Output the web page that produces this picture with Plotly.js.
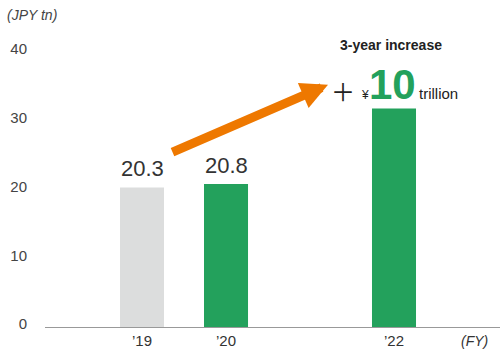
<!DOCTYPE html>
<html>
<head>
<meta charset="utf-8">
<script src="https://cdn.plot.ly/plotly-3.0.1.min.js"></script>
<style>html,body{margin:0;padding:0;background:#fff;}#chart{width:500px;height:356px;}</style>
</head>
<body>
<div id="chart"></div>
<script>
// ---- data ----
const years = [2019, 2020, 2022];
const values = [20.3, 20.8, 31.8];
const tickYears = [2019, 2020, 2022];
const tickLabels = ["’19", "’20", "’22"];
const barLabels = ["20.3", "20.8", ""];
const barColors = ["#dcdddd", "#23a15c", "#23a15c"];
const yTicks = [0, 10, 20, 30, 40];

// ---- layout helpers (pixel -> paper) ----
const W = 500, H = 356;
const M = {l: 45, r: 0, t: 52.3, b: 29.3};
const pw = W - M.l - M.r, ph = H - M.t - M.b;
const px = x => (x - M.l) / pw;
const py = y => (H - M.b - y) / ph;

const font = "Liberation Sans, Arial, sans-serif";

const trace = {
  type: "bar",
  x: years,
  y: values,
  width: 0.524,
  marker: {color: barColors, line: {width: 0}},
  hoverinfo: "skip"
};

const annotations = [];
years.forEach((yr, i) => {
  if (barLabels[i]) {
    annotations.push({
      x: yr, y: values[i], xref: "x", yref: "y",
      text: barLabels[i], showarrow: false,
      yanchor: "middle", xanchor: "center", yshift: 19,
      font: {family: font, size: 22, color: "#333"}
    });
  }
});

annotations.push(
  {xref: "paper", yref: "paper", x: px(5), y: py(15), xanchor: "left", yanchor: "middle",
   text: "<i>(JPY tn)</i>", showarrow: false, font: {family: font, size: 14, color: "#444"}},
  {xref: "paper", yref: "paper", x: px(490), y: py(341), xanchor: "right", yanchor: "middle",
   text: "<i>(FY)</i>", showarrow: false, font: {family: font, size: 14, color: "#333"}},
  {xref: "paper", yref: "paper", x: px(391), y: py(45), xanchor: "center", yanchor: "middle",
   text: "<b>3-year increase</b>", showarrow: false, font: {family: font, size: 14, color: "#222"}},
  {xref: "paper", yref: "paper", x: px(343), y: py(91), xanchor: "center", yanchor: "middle",
   text: "＋", showarrow: false, font: {family: "Noto Sans CJK JP, sans-serif", size: 24, color: "#222"}},
  {xref: "paper", yref: "paper", x: px(365), y: py(95), xanchor: "center", yanchor: "middle",
   text: "¥", showarrow: false, font: {family: font, size: 12, color: "#222"}},
  {xref: "paper", yref: "paper", x: px(392), y: py(85), xanchor: "center", yanchor: "middle",
   text: "<b>10</b>", showarrow: false, font: {family: font, size: 42, color: "#23a15c"}},
  {xref: "paper", yref: "paper", x: px(417), y: py(94), xanchor: "left", yanchor: "middle",
   text: "trillion", showarrow: false, font: {family: font, size: 15, color: "#222"}},
  {xref: "paper", yref: "paper", x: px(328), y: py(85), axref: "pixel", ayref: "pixel",
   ax: -157, ay: 68, showarrow: true, arrowhead: 2, arrowsize: 0.6, arrowwidth: 9,
   arrowcolor: "#ee7800", text: "", standoff: 0}
);

const layout = {
  width: W, height: H,
  margin: M,
  paper_bgcolor: "#fff", plot_bgcolor: "#fff",
  showlegend: false,
  xaxis: {
    range: [2017.845, 2023.262],
    tickvals: tickYears, ticktext: tickLabels,
    ticks: "", 
    showgrid: false, zeroline: false,
    showline: true, linecolor: "#999", linewidth: 1,
    tickfont: {family: font, size: 15, color: "#333"},
    automargin: false, fixedrange: true
  },
  yaxis: {
    range: [0, 40],
    tickvals: yTicks,
    ticks: "outside", ticklen: 14, tickcolor: "rgba(0,0,0,0)",
    ticklabelshift: -3,
    showgrid: false, zeroline: false, showline: false,
    tickfont: {family: font, size: 15, color: "#444"},
    automargin: false, fixedrange: true
  },
  annotations: annotations
};

Plotly.newPlot("chart", [trace], layout, {staticPlot: true, displayModeBar: false});
</script>
</body>
</html>
